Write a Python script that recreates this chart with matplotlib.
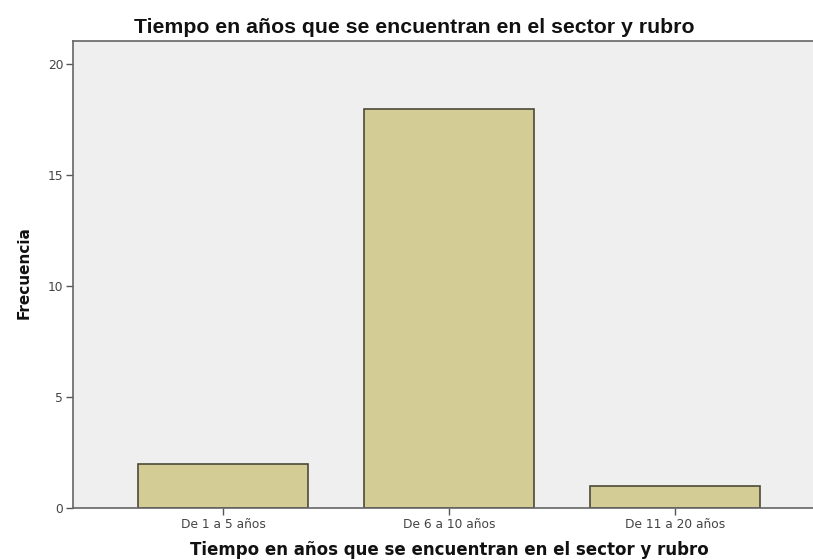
import matplotlib.pyplot as plt

categories = ["De 1 a 5 años", "De 6 a 10 años", "De 11 a 20 años"]
frecuencia = [2, 18, 1]
y_ticks = [0, 5, 10, 15, 20]

fig = plt.figure(figsize=(8.13, 5.6), dpi=100)
ax = fig.add_axes([0.0898, 0.0929, 0.9102, 0.8339])
ax.set_facecolor("#efefef")

pos = range(len(categories))
ax.bar(pos, frecuencia, width=0.75, color="#d3cd95", edgecolor="#4b4a38", linewidth=1.2, zorder=2)

ax.set_xlim(-0.664, 2.61)
ax.set_ylim(0, 21.05)
ax.set_xticks(list(pos))
ax.set_xticklabels(categories, fontsize=8.8, color="#444444")
ax.set_yticks(y_ticks)
ax.set_yticklabels([str(v) for v in y_ticks], fontsize=8.8, color="#444444")
ax.tick_params(axis="both", length=5, width=1, color="#555555", pad=2)

for side in ["left", "bottom", "top"]:
    ax.spines[side].set_color("#666666")
    ax.spines[side].set_linewidth(1.2)
ax.spines["right"].set_visible(False)

# titles sit as free text, like the SPSS export
fig.text(0.509, 0.941, "Tiempo en años que se encuentran en el sector y rubro",
         ha="center", va="baseline", fontsize=15.3, fontweight="bold",
         family="Liberation Sans", color="#111111")
fig.text(0.553, 0.009, "Tiempo en años que se encuentran en el sector y rubro",
         ha="center", va="baseline", fontsize=12, fontweight="bold", color="#111111")
fig.text(0.03, 0.5125, "Frecuencia", rotation=90, ha="center", va="center",
         fontsize=11, fontweight="bold", color="#111111")

fig.savefig("out.png", dpi=100)
